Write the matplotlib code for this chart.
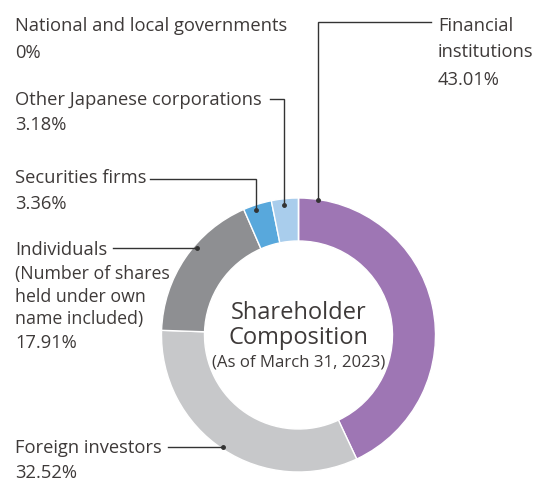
import numpy as np
import matplotlib.pyplot as plt

# shareholder composition, as of March 31, 2023 (clockwise from top)
categories = ['Financial institutions', 'Foreign investors', 'Individuals',
              'Securities firms', 'Other Japanese corporations',
              'National and local governments']
shares = [43.01, 32.52, 17.91, 3.36, 3.18, 0.0]
colors = ['#9e76b4', '#c7c8ca', '#8e8f92', '#58a8dc', '#a9cdec', '#ffffff']

W, H = 535, 481
txt = '#3e3a39'
plt.rcParams['font.family'] = ['Open Sans', 'DejaVu Sans']

fig = plt.figure(figsize=(W / 100, H / 100), dpi=100)
ax = fig.add_axes([0, 0, 1, 1])

cx, cy, R = 298.5, H - 336, 137
ax.pie(shares, colors=colors, startangle=90, counterclock=False,
       center=(cx, cy), radius=R,
       wedgeprops=dict(width=43, edgecolor='white', linewidth=1.0))
ax.set_xlim(0, W)
ax.set_ylim(0, H)
ax.set_aspect('equal')
ax.axis('off')


def Y(y):
    return H - y


def put(x, y, s, size=13.2, **kw):
    ax.text(x, Y(y), s, fontsize=size, color=txt, va='baseline', ha='left', **kw)


# labels (image coords: x, baseline)
put(15, 31, 'National and local governments')
put(15, 58, '0%')
put(15, 105, 'Other Japanese corporations')
put(15, 130, '3.18%')
put(15, 183, 'Securities firms')
put(15, 209, '3.36%')
put(15, 255, 'Individuals')
put(15, 279, '(Number of shares', size=12.8)
put(15, 302, 'held under own', size=12.8)
put(15, 324, 'name included)', size=12.8)
put(15, 348, '17.91%')
put(15, 453, 'Foreign investors')
put(15, 478, '32.52%')
put(438, 31, 'Financial')
put(438, 57, 'institutions')
put(438, 85, '43.01%')

# leader lines: (path points in image coords), last point gets a dot
leaders = [
    [(431, 23), (318, 23), (318, 201)],
    [(270, 100), (284, 100), (284, 206)],
    [(150, 180), (256, 180), (256, 211)],
    [(113, 249), (197, 249)],
    [(168, 448), (223, 448)],
]
for pts in leaders:
    xs = [p[0] for p in pts]
    ys = [Y(p[1]) for p in pts]
    ax.plot(xs, ys, color='#333333', lw=1.0, solid_joinstyle='miter')
    ax.plot(xs[-1], ys[-1], 'o', color='#333333', ms=2.5)

# centre title
ax.text(cx, Y(319), 'Shareholder', fontsize=17, color=txt, ha='center', va='baseline')
ax.text(cx, Y(344), 'Composition', fontsize=17, color=txt, ha='center', va='baseline')
ax.text(cx, Y(367), '(As of March 31, 2023)', fontsize=12.1, color=txt, ha='center', va='baseline')

fig.savefig('out.png', dpi=100)
